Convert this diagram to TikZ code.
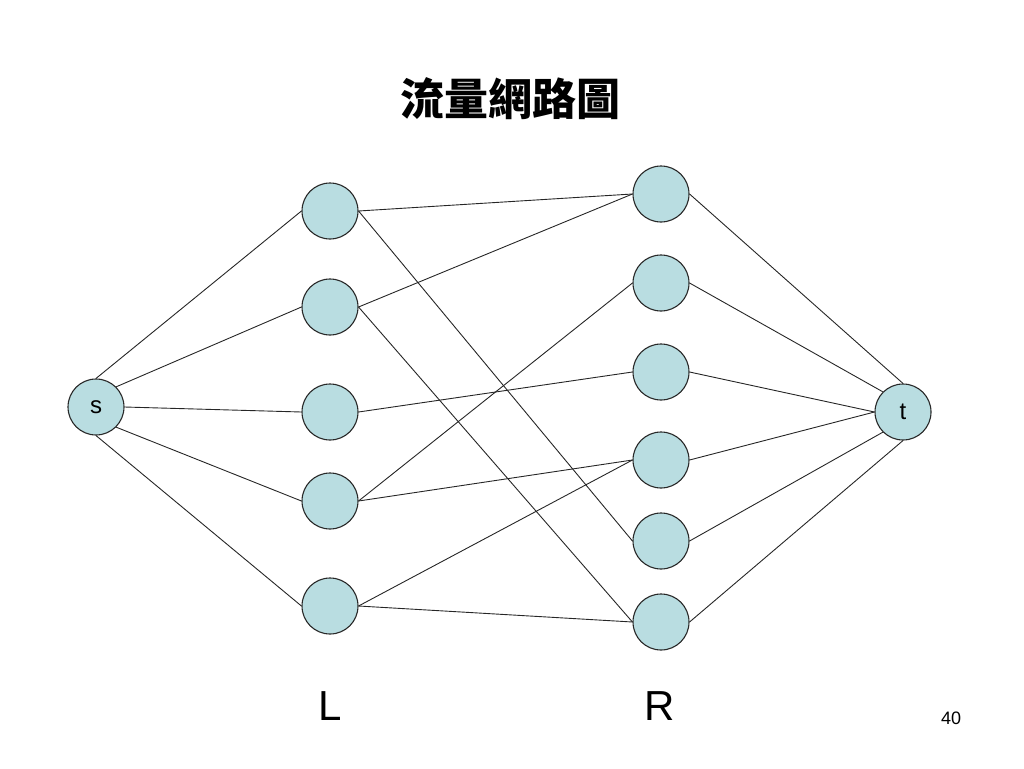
\documentclass[tikz,border=0pt]{standalone}
\usepackage{fontspec}
\setmainfont{Liberation Sans}
\newfontfamily\cjk{Noto Sans CJK TC}
\definecolor{nodefill}{RGB}{185,221,225}
\definecolor{nodeline}{RGB}{40,40,40}
\begin{document}
\begin{tikzpicture}[x=1pt,y=-1pt,
  vtx/.style={circle,draw=nodeline,fill=nodefill,line width=1.1pt,minimum size=56pt,inner sep=0pt,font=\fontsize{24}{24}\selectfont},
  edge/.style={draw=black!85,line width=0.9pt},
  lbl/.style={font=\fontsize{42}{42}\selectfont,inner sep=0pt}]
\useasboundingbox (0,0) rectangle (1024,768);
\node[font=\cjk\bfseries\fontsize{44}{44}\selectfont] (title) at (510,99) {流量網路圖};
\node[vtx] (s) at (96,407) {s};
\node[vtx] (t) at (903,412) {t};
\node[vtx] (l1) at (330,211) {};
\node[vtx] (l2) at (330,307) {};
\node[vtx] (l3) at (330,412) {};
\node[vtx] (l4) at (330,501) {};
\node[vtx] (l5) at (330,606) {};
\node[vtx] (r1) at (661,194) {};
\node[vtx] (r2) at (661,283) {};
\node[vtx] (r3) at (661,372) {};
\node[vtx] (r4) at (661,460) {};
\node[vtx] (r5) at (661,541) {};
\node[vtx] (r6) at (661,622) {};
\draw[edge] (s.north) -- (l1.west);
\draw[edge] (s.north east) -- (l2.west);
\draw[edge] (s.east) -- (l3.west);
\draw[edge] (s.south east) -- (l4.west);
\draw[edge] (s.south) -- (l5.west);
\draw[edge] (r1.east) -- (t.north);
\draw[edge] (r2.east) -- (t.north west);
\draw[edge] (r3.east) -- (t.west);
\draw[edge] (r4.east) -- (t.west);
\draw[edge] (r5.east) -- (t.south west);
\draw[edge] (r6.east) -- (t.south);
\draw[edge] (l1.east) -- (r1.west);
\draw[edge] (l1.east) -- (r5.west);
\draw[edge] (l2.east) -- (r1.west);
\draw[edge] (l2.east) -- (r6.west);
\draw[edge] (l3.east) -- (r3.west);
\draw[edge] (l4.east) -- (r2.west);
\draw[edge] (l4.east) -- (r4.west);
\draw[edge] (l5.east) -- (r4.west);
\draw[edge] (l5.east) -- (r6.west);
\node[lbl] (lL) at (330,706) {L};
\node[lbl] (lR) at (660,706) {R};
\node[font=\fontsize{18}{18}\selectfont,inner sep=0pt] (page) at (951,718) {40};
\end{tikzpicture}
\end{document}
